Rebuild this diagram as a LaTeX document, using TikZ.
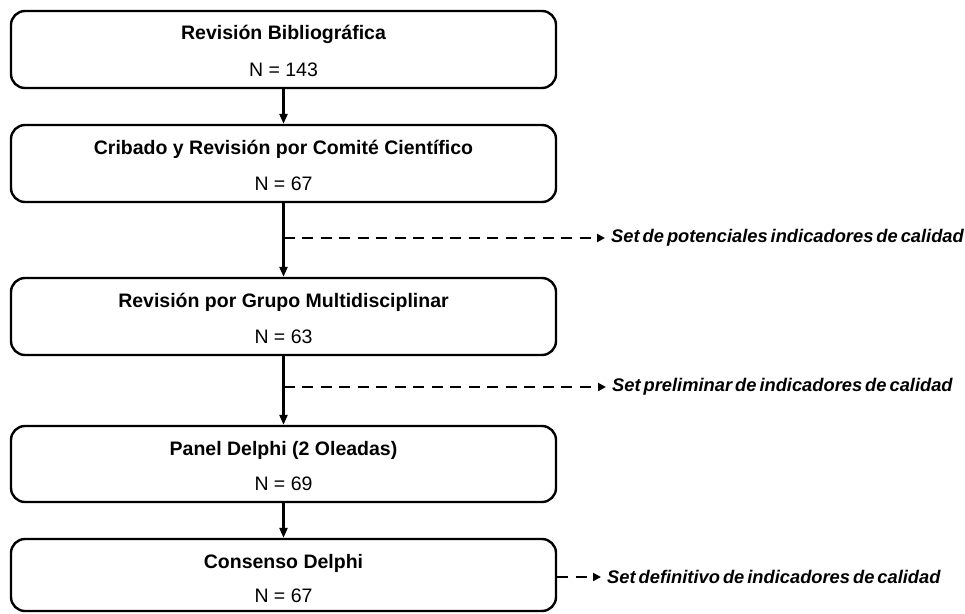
\documentclass[tikz,border=0pt]{standalone}
\usepackage{fontspec}
\setmainfont{Liberation Sans}
\usetikzlibrary{arrows.meta}
\newcommand{\tightspaces}{\spaceskip 3pt plus 1pt minus 1pt\relax}
\begin{document}
\begin{tikzpicture}[x=1pt,y=-1pt,
  boxstyle/.style={draw, line width=2.4pt, rounded corners=14pt, minimum width=545pt, inner sep=0pt},
  titletext/.style={font=\fontsize{19.5}{23}\selectfont\bfseries, inner sep=0pt, anchor=base},
  ntext/.style={font=\fontsize{19.5}{23}\selectfont, inner sep=0pt, anchor=base},
  outtext/.style={font=\fontsize{18.3}{21}\selectfont\bfseries\itshape, execute at begin node=\tightspaces, inner sep=0pt, anchor=west},
  flow/.style={line width=2.3pt, -{Triangle[length=10pt,width=8pt]}},
  branch/.style={line width=2.4pt, dash pattern=on 11pt off 7.5pt, -{Triangle[length=8pt,width=8pt]}}]
\useasboundingbox (0,0) rectangle (965,613);
% boxes
\node[boxstyle, minimum height=77pt] (b1) at (283.5,49.5) {};
\node[boxstyle, minimum height=77pt] (b2) at (283.5,163.5) {};
\node[boxstyle, minimum height=77pt] (b3) at (283.5,316.5) {};
\node[boxstyle, minimum height=76pt] (b4) at (283.5,464) {};
\node[boxstyle, minimum height=72pt] (b5) at (283.5,575) {};
% texts
\node[titletext] (t1) at (283.5,39) {Revisión Bibliográfica};
\node[ntext] (n1) at (283.5,76) {N = 143};
\node[titletext] (t2) at (283.5,154) {Cribado y Revisión por Comité Científico};
\node[ntext] (n2) at (283.5,190) {N = 67};
\node[titletext] (t3) at (283.5,307) {Revisión por Grupo Multidisciplinar};
\node[ntext] (n3) at (283.5,343) {N = 63};
\node[titletext] (t4) at (283.5,455) {Panel Delphi (2 Oleadas)};
\node[ntext] (n4) at (283.5,490) {N = 69};
\node[titletext] (t5) at (283.5,568) {Consenso Delphi};
\node[ntext] (n5) at (283.5,602) {N = 67};
% flow arrows
\draw[flow] (b1.south) -- (b2.north);
\draw[flow] (b2.south) -- (b3.north);
\draw[flow] (b3.south) -- (b4.north);
\draw[flow] (b4.south) -- (b5.north);
% outputs
\coordinate (c1) at (283.5,238);
\coordinate (c2) at (283.5,387);
\node[outtext] (o1) at (611,238) {Set de potenciales indicadores de calidad};
\node[outtext] (o2) at (612,387) {Set preliminar de indicadores de calidad};
\node[outtext] (o3) at (607,577) {Set definitivo de indicadores de calidad};
\draw[branch] (c1) -- ([xshift=-6pt]o1.west);
\draw[branch] (c2) -- ([xshift=-6pt]o2.west);
\draw[branch] (b5.east |- o3.west) -- ([xshift=-6pt]o3.west);
\end{tikzpicture}
\end{document}
